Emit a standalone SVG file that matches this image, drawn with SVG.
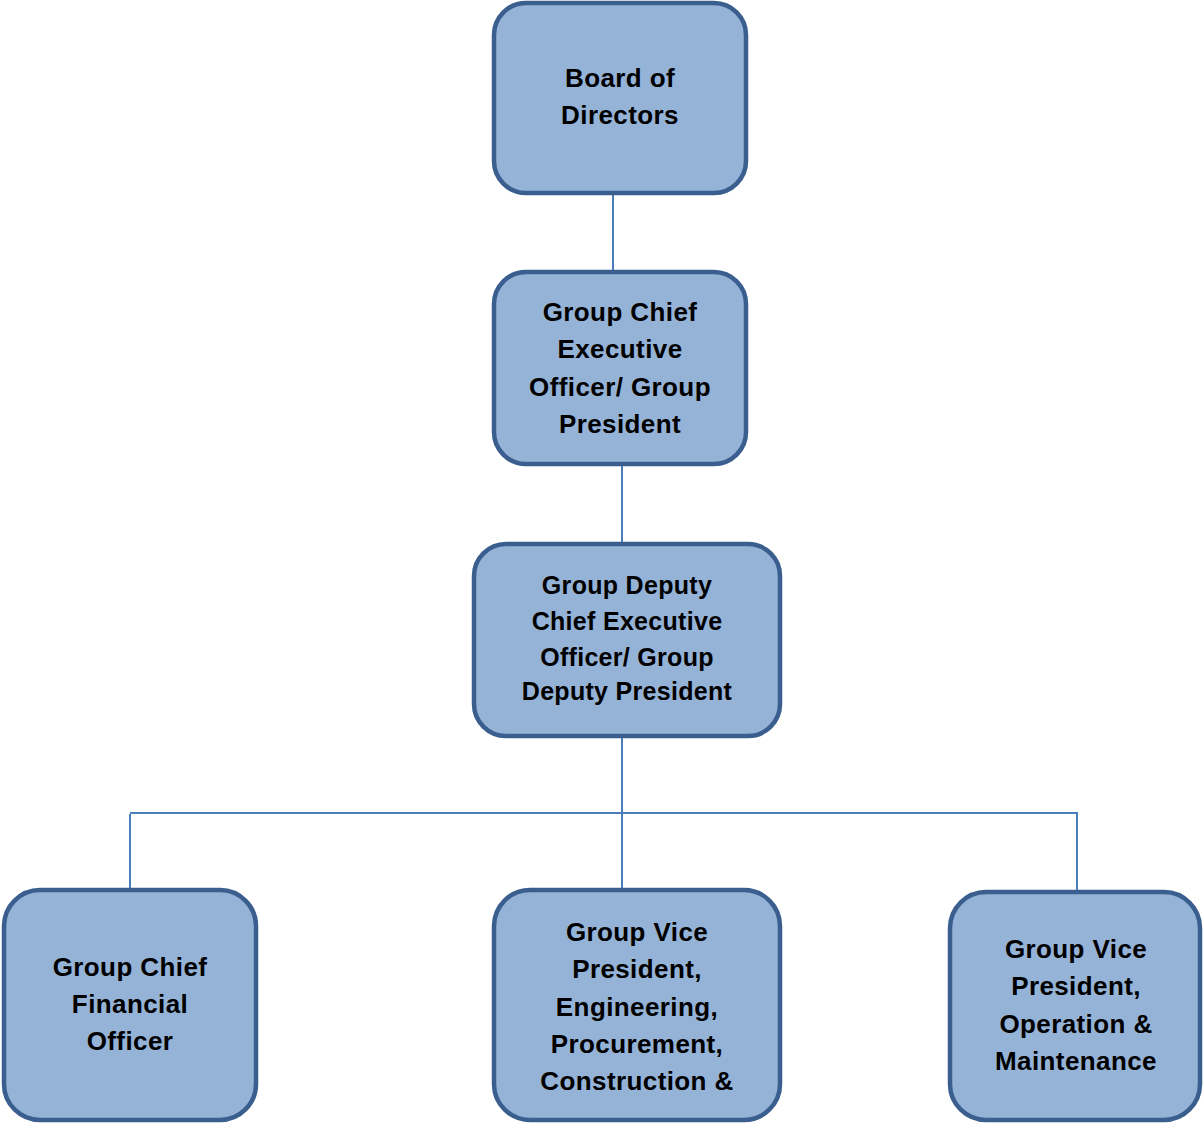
<svg xmlns="http://www.w3.org/2000/svg" width="1204" height="1124" viewBox="0 0 1204 1124">
<style>
.box{fill:#95B3D7;stroke:#3A5F8F;stroke-width:4.5}
.lbl{font-family:"Liberation Sans",Arial,sans-serif;font-weight:bold;font-size:26px;letter-spacing:0.4px;fill:#000;text-anchor:middle}
.sm{font-size:25px;letter-spacing:0.3px}
.conn{stroke:#4A7EBB;stroke-width:2;fill:none}
</style>
<rect width="1204" height="1124" fill="#fff"/>
<g id="connectors">
<path class="conn" d="M613 193V272"/>
<path class="conn" d="M622 464V544"/>
<path class="conn" d="M622 736V890"/>
<path class="conn" d="M130 813H1077V892"/>
<path class="conn" d="M130 814V890"/>
</g>
<g id="board">
<rect class="box" x="494" y="3" width="252" height="190" rx="32"/>
<text class="lbl" x="620" y="87">Board of</text>
<text class="lbl" x="620" y="124">Directors</text>
</g>
<g id="gceo">
<rect class="box" x="494" y="272" width="252" height="192" rx="32"/>
<text class="lbl" x="620" y="321">Group Chief</text>
<text class="lbl" x="620" y="358">Executive</text>
<text class="lbl" x="620" y="396">Officer/ Group</text>
<text class="lbl" x="620" y="433">President</text>
</g>
<g id="deputy">
<rect class="box" x="474" y="544" width="306" height="192" rx="32"/>
<text class="lbl sm" x="627" y="594">Group Deputy</text>
<text class="lbl sm" x="627" y="630">Chief Executive</text>
<text class="lbl sm" x="627" y="666">Officer/ Group</text>
<text class="lbl sm" x="627" y="700">Deputy President</text>
</g>
<g id="cfo">
<rect class="box" x="4" y="890" width="252" height="230" rx="36"/>
<text class="lbl" x="130" y="976">Group Chief</text>
<text class="lbl" x="130" y="1013">Financial</text>
<text class="lbl" x="130" y="1050">Officer</text>
</g>
<g id="epc">
<rect class="box" x="494" y="890" width="286" height="230" rx="36"/>
<text class="lbl" x="637" y="941">Group Vice</text>
<text class="lbl" x="637" y="978">President,</text>
<text class="lbl" x="637" y="1016">Engineering,</text>
<text class="lbl" x="637" y="1053">Procurement,</text>
<text class="lbl" x="637" y="1090">Construction &amp;</text>
</g>
<g id="om">
<rect class="box" x="950" y="892" width="250" height="228" rx="36"/>
<text class="lbl" x="1076" y="958">Group Vice</text>
<text class="lbl" x="1076" y="995">President,</text>
<text class="lbl" x="1076" y="1033">Operation &amp;</text>
<text class="lbl" x="1076" y="1070">Maintenance</text>
</g>
</svg>
